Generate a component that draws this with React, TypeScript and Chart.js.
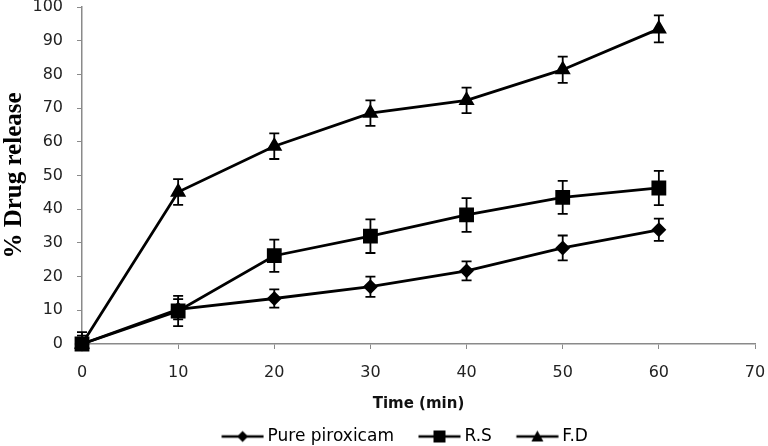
import React, { useEffect, useRef } from "react";
import { Chart, registerables } from "chart.js";

Chart.register(...registerables);

const times = [0, 10, 20, 30, 40, 50, 60];
const pureValues = [0, 10.3, 13.5, 17, 21.7, 28.5, 33.9];
const pureErrors = [1.5, 3, 2.7, 3, 2.8, 3.7, 3.3];
const rsValues = [0, 9.8, 26.2, 32, 38.3, 43.5, 46.3];
const rsErrors = [2.5, 4.5, 4.8, 5, 5, 4.9, 5.1];
const fdValues = [0, 45.1, 58.7, 68.5, 72.3, 81.4, 93.5];
const fdErrors = [3.5, 3.8, 3.8, 3.8, 3.8, 3.9, 4];
const seriesNames = ["Pure piroxicam", "R.S", "F.D"];
const xTicks = [0, 10, 20, 30, 40, 50, 60, 70];
const yTicks = [0, 10, 20, 30, 40, 50, 60, 70, 80, 90, 100];

const SANS = "'DejaVu Sans', sans-serif";

function makeLegendIcon(style: string): HTMLCanvasElement {
  const c = document.createElement("canvas");
  c.width = 66;
  c.height = 16;
  const ctx = c.getContext("2d")!;
  ctx.strokeStyle = "#000";
  ctx.lineWidth = 2.6;
  ctx.beginPath();
  ctx.moveTo(23.5, 8);
  ctx.lineTo(65.5, 8);
  ctx.stroke();
  ctx.fillStyle = "#000";
  const cx = 44.5;
  ctx.beginPath();
  if (style === "rectRot") {
    ctx.moveTo(cx, 2.5);
    ctx.lineTo(cx + 5.5, 8);
    ctx.lineTo(cx, 13.5);
    ctx.lineTo(cx - 5.5, 8);
  } else if (style === "rect") {
    ctx.rect(cx - 6, 2, 12, 12);
  } else {
    ctx.moveTo(cx, 2);
    ctx.lineTo(cx + 6, 13);
    ctx.lineTo(cx - 6, 13);
  }
  ctx.closePath();
  ctx.fill();
  return c;
}

const errorBarPlugin = {
  id: "errorBars",
  afterDatasetsDraw(chart: any) {
    const ctx = chart.ctx;
    const xs = chart.scales.x;
    const ys = chart.scales.y;
    ctx.save();
    ctx.strokeStyle = "#000";
    ctx.lineWidth = 1.8;
    chart.data.datasets.forEach((ds: any) => {
      const errs: number[] = ds.errors || [];
      ds.data.forEach((p: any, i: number) => {
        const e = errs[i];
        if (!e) return;
        const x = xs.getPixelForValue(p.x);
        const yt = ys.getPixelForValue(p.y + e);
        const yb = ys.getPixelForValue(Math.max(p.y - e, ys.min));
        ctx.beginPath();
        ctx.moveTo(x, yt);
        ctx.lineTo(x, yb);
        ctx.moveTo(x - 5, yt);
        ctx.lineTo(x + 5, yt);
        if (p.y - e >= ys.min) {
          ctx.moveTo(x - 5, yb);
          ctx.lineTo(x + 5, yb);
        }
        ctx.stroke();
      });
    });
    ctx.restore();
  },
};

const legendShiftPlugin = {
  id: "legendShift",
  afterLayout(chart: any) {
    const l = chart.legend;
    if (l) {
      l.left -= 23;
      l.right -= 23;
    }
  },
};

export default function App() {
  const ref = useRef<HTMLCanvasElement | null>(null);
  useEffect(() => {
    if (!ref.current) return;
    const mk = (vals: number[]) => times.map((t, i) => ({ x: t, y: vals[i] }));
    const styles = ["rectRot", "rect", "triangle"];
    const radii = [5.5, 8.5, 6.5];
    const allVals = [pureValues, rsValues, fdValues];
    const allErrs = [pureErrors, rsErrors, fdErrors];
    const icons = styles.map(makeLegendIcon);
    const chart = new Chart(ref.current, {
      type: "line",
      data: {
        datasets: seriesNames.map((name, k) => ({
          label: name,
          data: mk(allVals[k]),
          errors: allErrs[k],
          borderColor: "#000",
          backgroundColor: "#000",
          borderWidth: 2.8,
          pointStyle: styles[k],
          pointRadius: radii[k],
          pointBackgroundColor: "#000",
          pointBorderColor: "#000",
          tension: 0,
          clip: false,
        })) as any,
      },
      options: {
        animation: false,
        responsive: false,
        maintainAspectRatio: false,
        layout: { autoPadding: false, padding: { top: 7, right: 13, left: 0, bottom: -9 } },
        plugins: {
          tooltip: { enabled: false },
          legend: {
            position: "bottom",
            fullSize: false,
            labels: {
              usePointStyle: true,
              pointStyleWidth: 56,
              boxHeight: 14,
              padding: 6,
              color: "#000",
              font: { family: SANS, size: 17 },
              generateLabels: (ch: any) =>
                ch.data.datasets.map((ds: any, i: number) => ({
                  text: ds.label,
                  pointStyle: icons[i],
                  fillStyle: "#000",
                  strokeStyle: "#000",
                  lineWidth: 0,
                  hidden: false,
                  datasetIndex: i,
                  fontColor: "#000",
                })),
            },
          },
        },
        scales: {
          x: {
            type: "linear",
            min: 0,
            max: 70,
            afterBuildTicks: (s: any) => {
              s.ticks = xTicks.map((v) => ({ value: v }));
            },
            afterFit: (s: any) => {
              s.height = 78;
              s.paddingLeft = 0;
              s.paddingRight = 0;
            },
            ticks: {
              color: "#222",
              font: { family: SANS, size: 16 },
              padding: 14,
            },
            grid: { drawOnChartArea: false, drawTicks: true, tickLength: 5, color: "#8a8a8a" },
            border: { color: "#8a8a8a", width: 1.5 },
            title: {
              display: true,
              text: "Time (min)",
              color: "#111",
              font: { family: SANS, size: 15, weight: "bold" },
              padding: { top: 4, bottom: 9 },
            },
          },
          y: {
            type: "linear",
            min: 0,
            max: 100,
            afterBuildTicks: (s: any) => {
              s.ticks = yTicks.map((v) => ({ value: v }));
            },
            afterFit: (s: any) => {
              s.width = 82;
              s.paddingTop = 0;
              s.paddingBottom = 0;
            },
            ticks: {
              color: "#222",
              font: { family: SANS, size: 16 },
              padding: 14,
            },
            grid: { drawOnChartArea: false, drawTicks: true, tickLength: 5, color: "#8a8a8a" },
            border: { color: "#8a8a8a", width: 1.5 },
            title: {
              display: true,
              text: "% Drug release",
              color: "#000",
              font: { family: "'Liberation Serif', serif", size: 25, weight: "bold" },
              padding: { top: 0, bottom: 0 },
            },
          },
        },
      } as any,
      plugins: [errorBarPlugin, legendShiftPlugin],
    });
    return () => chart.destroy();
  }, []);
  return (
    <div style={{ position: "fixed", left: 0, top: 0, width: 768, height: 446, background: "#fff" }}>
      <canvas ref={ref} width={768} height={446} style={{ display: "block" }} />
    </div>
  );
}
